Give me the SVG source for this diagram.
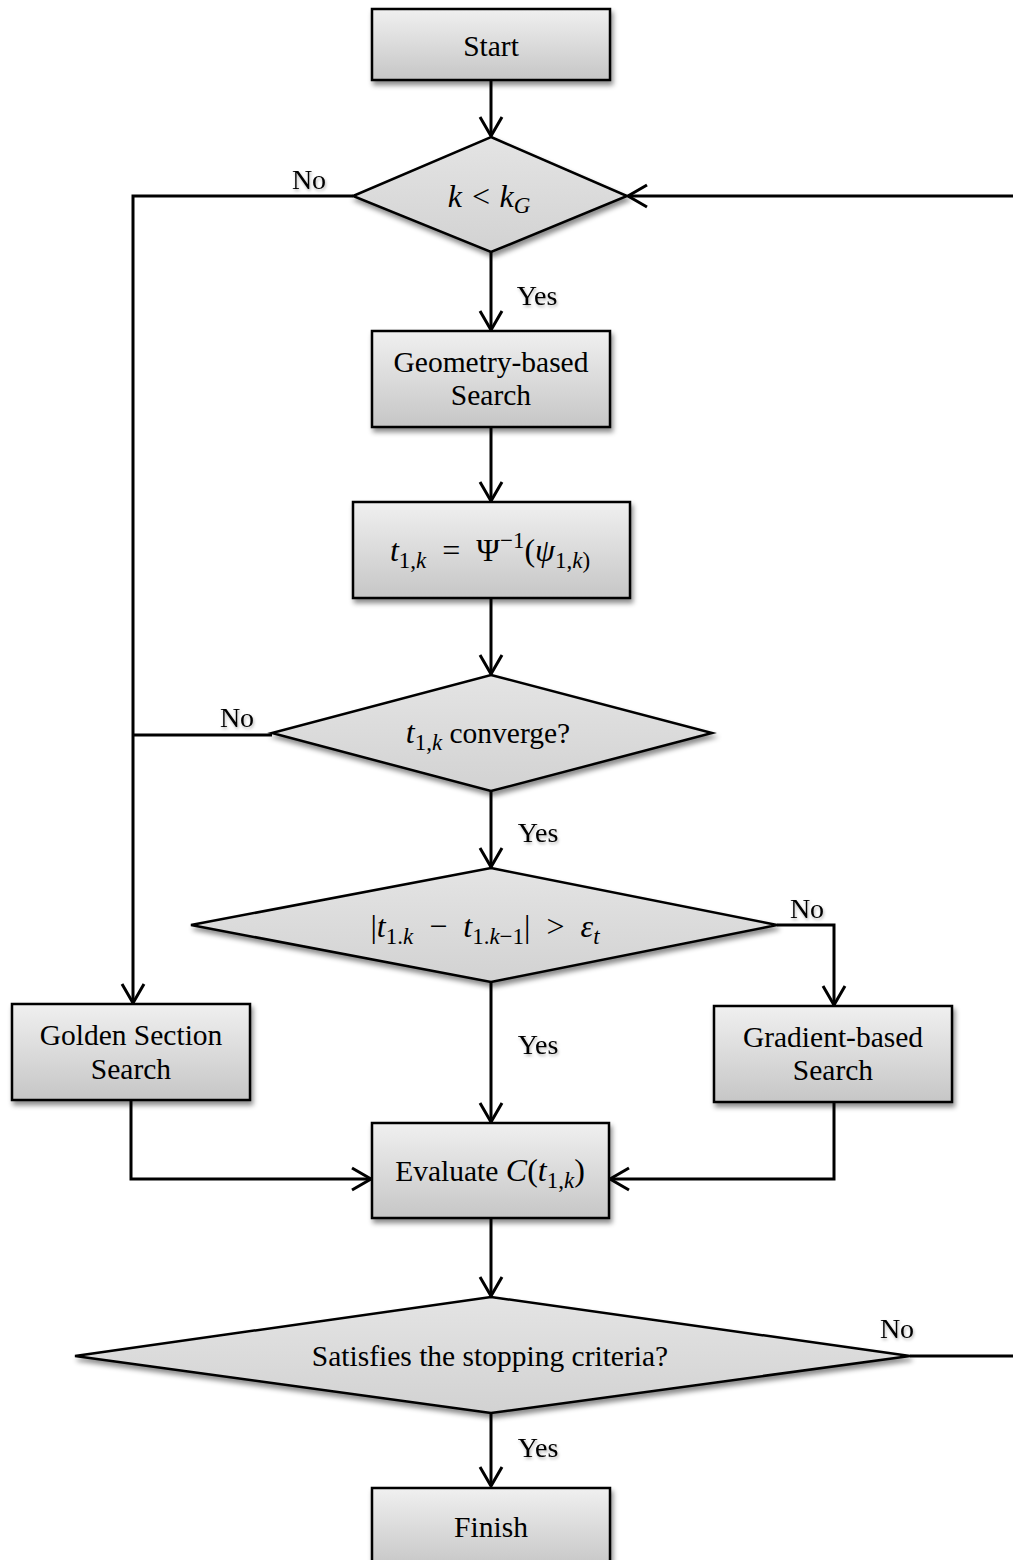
<svg xmlns="http://www.w3.org/2000/svg" width="1013" height="1560" viewBox="0 0 1013 1560">
  <style>
    .box { fill: url(#boxFill); stroke: #000; stroke-width: 2.5; filter: url(#shadow); }
    .dia { fill: url(#diaFill); stroke: #000; stroke-width: 2.5; filter: url(#shadow); }
    .lbl { font-family: "Liberation Serif", "Times New Roman", serif; font-size: 29.5px; fill: #000; text-anchor: middle; }
    .math { font-size: 32px; }
    .tag { font-family: "Liberation Serif", "Times New Roman", serif; font-size: 28px; fill: #000; text-anchor: middle; filter: url(#tshadow); }
    .m { font-style: italic; }
    .sub { font-size: 23px; }
    .wire { fill: none; stroke: #000; stroke-width: 3; }
  </style>
  <defs>
    <linearGradient id="boxFill" x1="0" y1="0" x2="0" y2="1">
      <stop offset="0" stop-color="#f0f0f0"/>
      <stop offset="1" stop-color="#c6c6c6"/>
    </linearGradient>
    <linearGradient id="diaFill" x1="0" y1="0" x2="0" y2="1">
      <stop offset="0" stop-color="#e4e4e4"/>
      <stop offset="1" stop-color="#d2d2d2"/>
    </linearGradient>
    <filter id="shadow" x="-10%" y="-10%" width="125%" height="135%">
      <feDropShadow dx="2" dy="4" stdDeviation="2.5" flood-color="#000" flood-opacity="0.45"/>
    </filter>
    <filter id="tshadow" x="-20%" y="-30%" width="150%" height="170%">
      <feDropShadow dx="1" dy="2" stdDeviation="1.5" flood-color="#000" flood-opacity="0.3"/>
    </filter>
    <marker id="arrow" viewBox="-22 -13 25 26" markerWidth="25" markerHeight="26" refX="0" refY="0" orient="auto" markerUnits="userSpaceOnUse">
      <path d="M-19,-11 L0,0 L-19,11" fill="none" stroke="#000" stroke-width="3"/>
    </marker>
  </defs>

  <!-- connectors -->
  <g id="connectors">
    <path class="wire" d="M491,80 V136" marker-end="url(#arrow)"/>
    <path class="wire" d="M491,252 V330" marker-end="url(#arrow)"/>
    <path class="wire" d="M491,427 V501" marker-end="url(#arrow)"/>
    <path class="wire" d="M491,598 V674" marker-end="url(#arrow)"/>
    <path class="wire" d="M491,791 V867" marker-end="url(#arrow)"/>
    <path class="wire" d="M491,982 V1122" marker-end="url(#arrow)"/>
    <path class="wire" d="M491,1218 V1296" marker-end="url(#arrow)"/>
    <path class="wire" d="M491,1413 V1486" marker-end="url(#arrow)"/>
    <!-- k < kG: No branch down to golden section search -->
    <path class="wire" d="M353,196 H133 V1003" marker-end="url(#arrow)"/>
    <!-- convergence check: No joins left branch -->
    <path class="wire" d="M272,735 H133"/>
    <!-- step-size check: No to gradient-based search -->
    <path class="wire" d="M777,925 H834 V1005" marker-end="url(#arrow)"/>
    <!-- search results feed the evaluation -->
    <path class="wire" d="M131,1100 V1179 H371" marker-end="url(#arrow)"/>
    <path class="wire" d="M834,1102 V1179 H610" marker-end="url(#arrow)"/>
    <!-- stopping criteria: No loops back to the top -->
    <path class="wire" d="M910,1356 H1016 V196 H628" marker-end="url(#arrow)"/>
  </g>

  <g id="start">
    <rect class="box" x="372" y="9" width="238" height="71"/>
    <text class="lbl" x="491" y="56">Start</text>
  </g>

  <g id="check-kG">
    <polygon class="dia" points="491,137 627,196 491,252 353,196"/>
    <text class="lbl math m" x="489" y="207">k  &lt;  k<tspan class="sub" dy="6">G</tspan></text>
  </g>

  <g id="geometry-search">
    <rect class="box" x="372" y="331" width="238" height="96"/>
    <text class="lbl" x="491" y="372">Geometry-based</text>
    <text class="lbl" x="491" y="405">Search</text>
  </g>

  <g id="inverse-map">
    <rect class="box" x="353" y="502" width="277" height="96"/>
    <text class="lbl math" x="490" y="561" xml:space="preserve"><tspan class="m">t</tspan><tspan class="sub" dy="7">1,<tspan class="m">k</tspan></tspan><tspan dy="-7">  =  Ψ</tspan><tspan class="sub" dy="-13">−1</tspan><tspan dy="13">(</tspan><tspan class="m">ψ</tspan><tspan class="sub" dy="7">1,<tspan class="m">k</tspan>)</tspan></text>
  </g>

  <g id="check-converge">
    <polygon class="dia" points="491,675 712,733 491,791 272,733"/>
    <text class="lbl" x="488" y="743"><tspan class="m math">t</tspan><tspan class="sub" dy="7">1,<tspan class="m">k</tspan></tspan><tspan dy="-7"> converge?</tspan></text>
  </g>

  <g id="check-step">
    <polygon class="dia" points="491,868 777,925 491,982 191,925"/>
    <text class="lbl math" x="485" y="937" xml:space="preserve">|<tspan class="m">t</tspan><tspan class="sub" dy="7">1.<tspan class="m">k</tspan></tspan><tspan dy="-7">  −  </tspan><tspan class="m">t</tspan><tspan class="sub" dy="7">1.<tspan class="m">k</tspan>−1</tspan><tspan dy="-7">|  &gt;  </tspan><tspan class="m">ε</tspan><tspan class="sub m" dy="7">t</tspan></text>
  </g>

  <g id="golden-search">
    <rect class="box" x="12" y="1004" width="238" height="96"/>
    <text class="lbl" x="131" y="1045">Golden Section</text>
    <text class="lbl" x="131" y="1079">Search</text>
  </g>

  <g id="gradient-search">
    <rect class="box" x="714" y="1006" width="238" height="96"/>
    <text class="lbl" x="833" y="1047">Gradient-based</text>
    <text class="lbl" x="833" y="1080">Search</text>
  </g>

  <g id="evaluate">
    <rect class="box" x="372" y="1123" width="237" height="95"/>
    <text class="lbl" x="490" y="1181">Evaluate <tspan class="m math">C</tspan><tspan class="math">(</tspan><tspan class="m math">t</tspan><tspan class="sub" dy="7">1,<tspan class="m">k</tspan></tspan><tspan class="math" dy="-7">)</tspan></text>
  </g>

  <g id="check-stop">
    <polygon class="dia" points="491,1297 910,1356 491,1413 75,1356"/>
    <text class="lbl" x="490" y="1366">Satisfies the stopping criteria?</text>
  </g>

  <g id="finish">
    <rect class="box" x="372" y="1488" width="238" height="80"/>
    <text class="lbl" x="491" y="1537">Finish</text>
  </g>

  <!-- branch labels -->
  <g id="branch-labels">
    <text class="tag" x="309" y="189">No</text>
    <text class="tag" x="537" y="305">Yes</text>
    <text class="tag" x="237" y="727">No</text>
    <text class="tag" x="538" y="842">Yes</text>
    <text class="tag" x="807" y="918">No</text>
    <text class="tag" x="538" y="1054">Yes</text>
    <text class="tag" x="897" y="1338">No</text>
    <text class="tag" x="538" y="1457">Yes</text>
  </g>
</svg>
